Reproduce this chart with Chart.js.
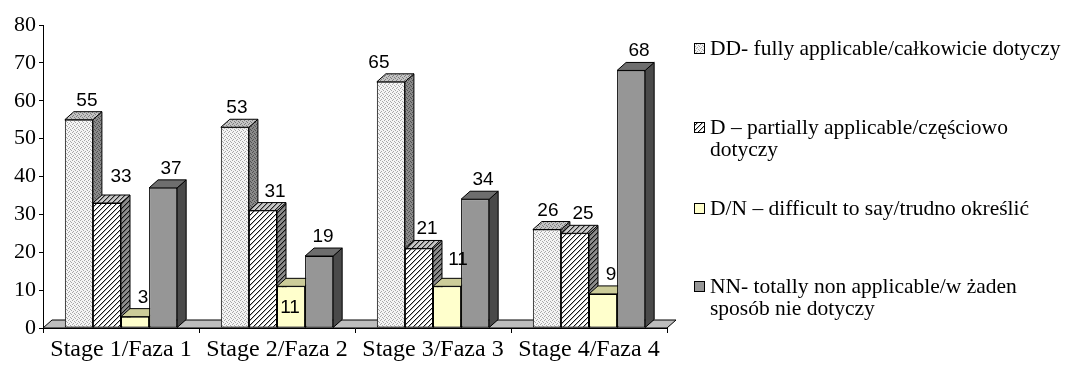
<!DOCTYPE html>
<html>
<head>
<meta charset="utf-8">
<script src="https://cdn.jsdelivr.net/npm/chart.js@4.4.1/dist/chart.umd.min.js"></script>
<style>
  html, body { margin: 0; padding: 0; background: #fff; }
  #wrap { width: 1068px; height: 365px; }
</style>
</head>
<body>
<div id="wrap"><canvas id="chart" width="1068" height="365"></canvas></div>
<script>
// Odpowiedzi wg faz
const stages = ['Stage 1/Faza 1', 'Stage 2/Faza 2', 'Stage 3/Faza 3', 'Stage 4/Faza 4'];
const ddValues = [55, 53, 65, 26];
const dValues = [33, 31, 21, 25];
const dnValues = [3, 11, 11, 9];
const nnValues = [37, 19, 34, 68];
const yTicks = [0, 10, 20, 30, 40, 50, 60, 70, 80];
const legendLines = [
  ['DD- fully applicable/całkowicie dotyczy'],
  ['D \u2013 partially applicable/częściowo', 'dotyczy'],
  ['D/N \u2013 difficult to say/trudno określić'],
  ['NN- totally non applicable/w żaden', 'sposób nie dotyczy'],
];

const SERIF = "'Liberation Serif', 'Times New Roman', serif";
const SANS = "'Liberation Sans', Arial, sans-serif";
const DX = 9, DY = 8; // głębokość słupków 3D

const canvas = document.getElementById('chart');
const ctx = canvas.getContext('2d');

// wzory wypełnień: kropkowany (DD) i ukośne kreski (D)
function dots(bg, fg) {
  const t = document.createElement('canvas');
  t.width = t.height = 4;
  const g = t.getContext('2d');
  g.fillStyle = bg; g.fillRect(0, 0, 4, 4);
  g.fillStyle = fg;
  [[0, 0], [2, 1], [1, 3], [3, 2]].forEach(([x, y]) => g.fillRect(x, y, 1, 1));
  return ctx.createPattern(t, 'repeat');
}
function hatch(bg, fg, soft) {
  const n = 5;
  const t = document.createElement('canvas');
  t.width = t.height = n;
  const g = t.getContext('2d');
  g.fillStyle = bg; g.fillRect(0, 0, n, n);
  for (let x = 0; x < n; x++) for (let y = 0; y < n; y++) {
    const k = (x + y) % n;
    if (k === n - 1) { g.fillStyle = fg; g.fillRect(x, y, 1, 1); }
    else if (k === 0) { g.fillStyle = soft; g.fillRect(x, y, 1, 1); }
  }
  return ctx.createPattern(t, 'repeat');
}

const faces = [
  { front: dots('#f4f4f4', '#a8a8a8'), top: dots('#c4c4c4', '#7c7c7c'), side: dots('#8a8a8a', '#505050') },
  { front: hatch('#ffffff', '#111111', '#b4b4b4'), top: hatch('#c8c8c8', '#222222', '#888888'), side: hatch('#8c8c8c', '#111111', '#606060') },
  { front: '#ffffcc', top: '#cccc99', side: '#999966' },
  { front: '#969696', top: '#6e6e6e', side: '#4a4a4a' },
];

// przesunięcia etykiet wartości (seria, faza) -> [dx, dy]
const labelNudge = {
  '0,1': [-6, 0], '0,2': [-20, 0], '0,3': [-7, 0],
  '1,0': [6, -7], '1,1': [4, 0],
  '2,1': [-9, 41], '2,2': [3, -7],
  '3,1': [-4, 0],
};

function poly(pts, fill) {
  ctx.beginPath();
  ctx.moveTo(pts[0][0], pts[0][1]);
  for (let i = 1; i < pts.length; i++) ctx.lineTo(pts[i][0], pts[i][1]);
  ctx.closePath();
  ctx.fillStyle = fill;
  ctx.fill();
  ctx.lineWidth = 1;
  ctx.strokeStyle = '#000';
  ctx.stroke();
}

const bars3d = {
  id: 'bars3d',
  // rysujemy serie od lewej: bok i góra, potem przód słupka z Chart.js
  beforeDatasetsDraw(chart) {
    const a = chart.chartArea;
    const b = chart.scales.y.getPixelForValue(0);
    ctx.save();
    poly([[a.left, b], [a.right, b], [a.right + DX, b - DY], [a.left + DX, b - DY]], '#bdbdbd');
    chart.data.datasets.forEach((ds, i) => {
      const meta = chart.getDatasetMeta(i);
      const f = faces[i];
      meta.data.forEach((bar) => {
        const p = bar.getProps(['x', 'y', 'base', 'width'], true);
        const l = p.x - p.width / 2, r = p.x + p.width / 2;
        poly([[r, p.y], [r + DX, p.y - DY], [r + DX, p.base - DY], [r, p.base]], f.side);
        poly([[l, p.y], [l + DX, p.y - DY], [r + DX, p.y - DY], [r, p.y]], f.top);
      });
      meta.controller.draw();
    });
    ctx.restore();
    return false;
  },
  afterDraw(chart) {
    ctx.save();
    // etykiety wartości
    ctx.font = '19px ' + SANS;
    ctx.fillStyle = '#000';
    ctx.textAlign = 'center';
    ctx.textBaseline = 'alphabetic';
    chart.data.datasets.forEach((ds, i) => {
      chart.getDatasetMeta(i).data.forEach((bar, j) => {
        const p = bar.getProps(['x', 'y'], true);
        const n = labelNudge[i + ',' + j] || [0, 0];
        ctx.fillText(String(ds.data[j]), p.x + 8 + n[0], p.y - 14 + n[1]);
      });
    });
    // legenda
    const rows = [[49], [128, 150], [209], [287, 309]];
    ctx.font = '21.5px ' + SERIF;
    ctx.textAlign = 'left';
    ctx.textBaseline = 'middle';
    legendLines.forEach((lines, i) => {
      const y0 = rows[i][0];
      ctx.fillStyle = faces[i].front;
      ctx.fillRect(694, y0 - 6, 11, 11);
      ctx.strokeStyle = '#000';
      ctx.lineWidth = 1;
      ctx.strokeRect(694.5, y0 - 5.5, 10, 10);
      ctx.fillStyle = '#000';
      lines.forEach((t, k) => ctx.fillText(t, 710, rows[i][k]));
    });
    ctx.restore();
  },
};

const seriesData = [ddValues, dValues, dnValues, nnValues];

new Chart(canvas, {
  type: 'bar',
  data: {
    labels: stages,
    datasets: seriesData.map((d, i) => ({
      label: legendLines[i].join(' '),
      data: d,
      backgroundColor: faces[i].front,
      borderColor: '#000',
      borderWidth: 1,
      borderSkipped: false,
      barPercentage: 1,
      categoryPercentage: 0.72,
    })),
  },
  options: {
    responsive: false,
    devicePixelRatio: 1,
    animation: false,
    events: [],
    layout: { padding: { left: 0, top: 25, right: 401, bottom: 0 } },
    plugins: { legend: { display: false }, tooltip: { enabled: false } },
    scales: {
      x: {
        afterFit: (s) => { s.height = 37; },
        grid: { offset: true, drawOnChartArea: false, tickLength: 5, color: '#000' },
        border: { color: '#000', width: 1 },
        ticks: { color: '#000', font: { family: SERIF, size: 24 }, padding: 2, maxRotation: 0, autoSkip: false },
      },
      y: {
        min: 0,
        max: 80,
        afterFit: (s) => { s.width = 43; },
        afterBuildTicks: (s) => { s.ticks = yTicks.map((v) => ({ value: v })); },
        grid: { drawOnChartArea: false, tickLength: 4, color: '#000' },
        border: { color: '#000', width: 1 },
        ticks: { color: '#000', font: { family: SERIF, size: 22 }, padding: 3 },
      },
    },
  },
  plugins: [bars3d],
});
</script>
</body>
</html>
